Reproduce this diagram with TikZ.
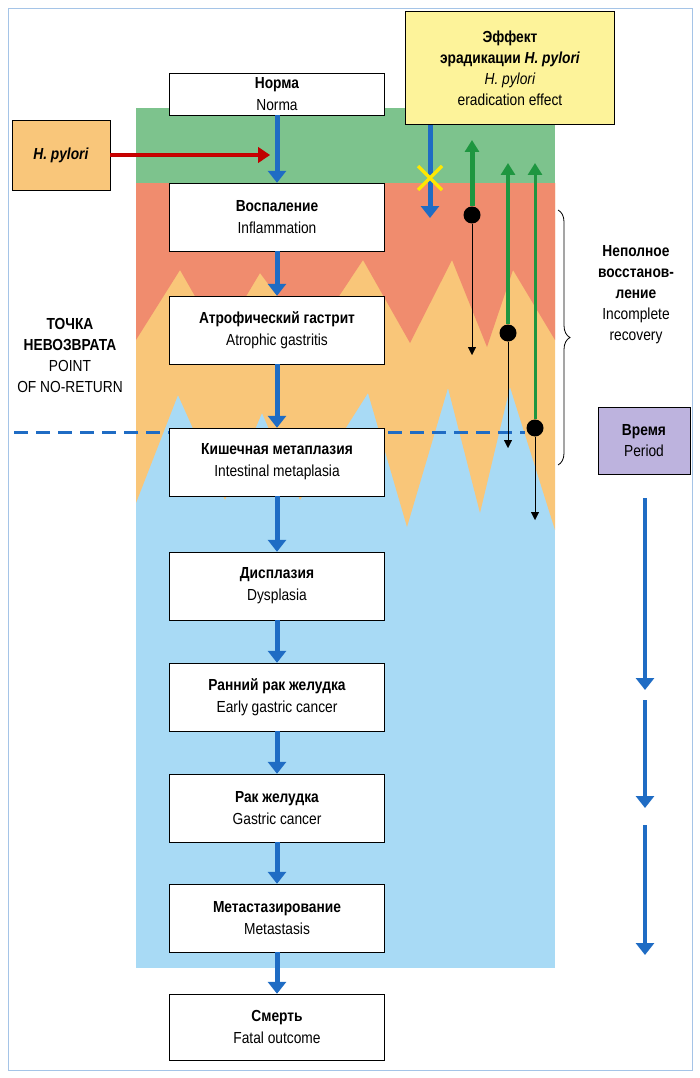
\documentclass[tikz,border=0pt]{standalone}
\usepackage{fontspec}
\setmainfont{Liberation Sans}[FakeStretch=0.86]
\usetikzlibrary{arrows.meta,decorations.pathreplacing}
\definecolor{bgreen}{HTML}{7DC38D}
\definecolor{bred}{HTML}{F08C6E}
\definecolor{borange}{HTML}{F9C679}
\definecolor{bblue}{HTML}{A8DAF5}
\definecolor{arrblue}{HTML}{1F6CC4}
\definecolor{arrgreen}{HTML}{1E9640}
\definecolor{hpbox}{HTML}{F9C67A}
\definecolor{yelbox}{HTML}{FDF39A}
\definecolor{purbox}{HTML}{BDB3DE}
\tikzset{
  stage/.style={draw, fill=white, minimum width=215pt, minimum height=68pt, align=center, font=\fontsize{16}{22}\selectfont},
  flow/.style={arrblue, line width=5pt, -{Triangle[length=12pt,width=18pt]}},
  back/.style={arrgreen, line width=5pt, -{Triangle[length=12pt,width=14pt]}},
  fall/.style={-{Triangle[length=8pt,width=8pt]}},
  dot/.style={circle, fill=black, inner sep=0pt, minimum size=17pt},
  lab/.style={align=center, font=\fontsize{16}{21}\selectfont}
}
\begin{document}
\begin{tikzpicture}[x=1pt,y=-1pt]
  \useasboundingbox (0,0) rectangle (700,1078);
  \draw[arrblue!40] (8,8) rectangle (692,1070);

  % bands
  \fill[bblue] (136,183) rectangle (555,968);
  \fill[borange] (136,183) -- (555,183) -- (555,530) -- (510,387) -- (480,513) -- (448,388)
        -- (407,527) -- (368,393) -- (300,500) -- (262,413) -- (225,500) -- (178,395)
        -- (136,503) -- cycle;
  \fill[bred] (136,183) -- (555,183) -- (555,340) -- (513,270) -- (487,347) -- (452,260)
        -- (410,343) -- (363,260) -- (310,340) -- (260,273) -- (220,340) -- (180,270)
        -- (136,340) -- cycle;
  \fill[bgreen] (136,108) rectangle (555,183);

  % point of no return
  \coordinate (pl) at (14,432);
  \coordinate (pr) at (525,432);
  \draw[arrblue, line width=3pt, dash pattern=on 14pt off 8pt] (pl) -- (pr);

  % stages
  \node[stage, minimum height=42pt] (norm) at (277,94) {\textbf{Норма}\\Norma};
  \node[stage] (infl) at (277,217) {\textbf{Воспаление}\\Inflammation};
  \node[stage] (atro) at (277,330) {\textbf{Атрофический гастрит}\\Atrophic gastritis};
  \node[stage] (meta) at (277,462) {\textbf{Кишечная метаплазия}\\Intestinal metaplasia};
  \node[stage] (dysp) at (277,586) {\textbf{Дисплазия}\\Dysplasia};
  \node[stage] (early) at (277,697) {\textbf{Ранний рак желудка}\\Early gastric cancer};
  \node[stage] (canc) at (277,808) {\textbf{Рак желудка}\\Gastric cancer};
  \node[stage] (metas) at (277,918) {\textbf{Метастазирование}\\Metastasis};
  \node[stage, minimum height=66pt] (death) at (277,1027) {\textbf{Смерть}\\Fatal outcome};

  \foreach \a/\b in {norm/infl, infl/atro, atro/meta, meta/dysp, dysp/early,
                     early/canc, canc/metas, metas/death}
    \draw[flow] (\a) -- (\b);

  \node[lab] (pnr) at (70,355) {\textbf{ТОЧКА}\\\textbf{НЕВОЗВРАТА}\\POINT\\OF NO-RETURN};

  % H. pylori
  \node[draw, fill=hpbox, minimum width=98pt, minimum height=70pt, font=\fontsize{16}{20}\selectfont] (hp) at (61,155) {\textbf{\textit{H. pylori}}};
  \coordinate (hpend) at (270,155);
  \draw[red!75!black, double=red!80!black, double distance=1.5pt, line width=1.2pt,
        -{Triangle[length=12pt,width=16pt]}] (hp) -- (hpend);

  % eradication effect
  \node[draw, fill=yelbox, minimum width=209pt, minimum height=113pt, lab] (erad) at (510,68)
       {\textbf{Эффект}\\\textbf{эрадикации \textit{H. pylori}}\\\textit{H. pylori}\\eradication effect};
  \coordinate (stop) at (430,218);
  \draw[flow] (430,125) -- (stop);
  \draw[yellow!90!orange, line width=3.5pt] (418,166) -- (442,190) (418,190) -- (442,166);

  \node[dot] (d1) at (472,215) {};
  \node[dot] (d2) at (508,333) {};
  \node[dot] (d3) at (535,428) {};
  \coordinate (u1) at (472,140);
  \coordinate (u2) at (508,163);
  \coordinate (u3) at (535,163);
  \draw[back] (d1) -- (u1);
  \draw[back, line width=4pt] (d2) -- (u2);
  \draw[back, line width=3pt] (d3) -- (u3);
  \coordinate (f1) at (472,355);
  \coordinate (f2) at (508,448);
  \coordinate (f3) at (535,520);
  \draw[fall] (d1) -- (f1);
  \draw[fall] (d2) -- (f2);
  \draw[fall] (d3) -- (f3);

  % incomplete recovery
  \draw[decorate, decoration={brace, amplitude=12pt}, thick] (558,210) -- (558,465);
  \node[lab] (rec) at (636,295) {\textbf{Неполное}\\\textbf{восстанов-}\\\textbf{ление}\\Incomplete\\recovery};

  % period
  \node[draw, fill=purbox, minimum width=92pt, minimum height=67pt, lab] (time) at (644,441) {\textbf{Время}\\Period};
  \coordinate (t1) at (645,498); \coordinate (t2) at (645,690);
  \coordinate (t3) at (645,700); \coordinate (t4) at (645,808);
  \coordinate (t5) at (645,825); \coordinate (t6) at (645,955);
  \draw[flow, line width=4pt] (t1) -- (t2);
  \draw[flow, line width=4pt] (t3) -- (t4);
  \draw[flow, line width=4pt] (t5) -- (t6);
\end{tikzpicture}
\end{document}
